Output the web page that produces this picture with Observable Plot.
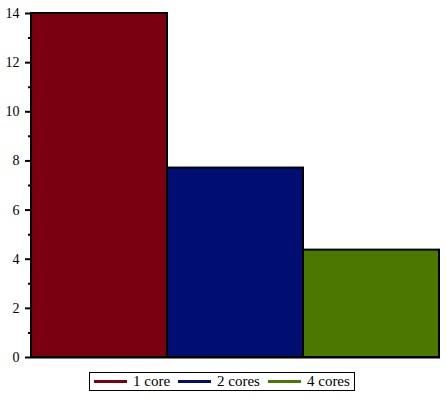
<!DOCTYPE html>
<html>
<head>
<meta charset="utf-8">
<script src="https://cdn.jsdelivr.net/npm/d3@7"></script>
<script src="https://cdn.jsdelivr.net/npm/@observablehq/plot@0.6"></script>
<style>
  body { margin: 0; background: #fff; font-family: "Liberation Serif", "Times New Roman", serif; }
  #chart svg { display: block; }
  #chart svg text { font-family: "Liberation Serif", "Times New Roman", serif !important; }
  #legend {
    position: absolute; left: 89px; top: 372px;
    border: 1px solid #000; height: 19px; box-sizing: border-box;
    display: flex; align-items: center; padding: 0 4px 0 4px;
    font-family: "Liberation Serif", "Times New Roman", serif; font-size: 15px; color: #000;
    white-space: nowrap; line-height: 1;
  }
  .item { display: flex; align-items: center; margin-right: 8px; }
  .item:last-child { margin-right: 0; }
  .sw { width: 33px; height: 3px; margin-right: 6px; }
</style>
</head>
<body>
<div id="chart"></div>
<div id="legend"></div>
<script>
const categories = ["1 core", "2 cores", "4 cores"];
const values = [14, 7.71, 4.37];
const colors = ["#7a0010", "#000e72", "#4b7900"];
const majorTicks = [0, 2, 4, 6, 8, 10, 12, 14];
const minorTicks = [1, 3, 5, 7, 9, 11, 13];

const data = categories.map((c, i) => ({category: c, value: values[i]}));

const chart = Plot.plot({
  width: 446,
  height: 364,
  marginLeft: 30,
  marginRight: 6,
  marginTop: 13,
  marginBottom: 7,
  style: {fontFamily: "'Liberation Serif', 'Times New Roman', serif", fontSize: "14px", color: "#000", background: "#fff"},
  x: {domain: categories, padding: 0, axis: null},
  y: {domain: [0, 14], axis: null},
  color: {domain: categories, range: colors},
  marks: [
    Plot.barY(data, {x: "category", y: "value", fill: "category", stroke: "#000", strokeWidth: 2, inset: 0}),
    Plot.ruleY([0], {stroke: "#000", strokeWidth: 2}),
    Plot.axisY({ticks: majorTicks, tickSize: 5, tickPadding: 6, strokeWidth: 2, fontSize: 14, fill: "#000", label: null}),
    Plot.axisY({ticks: minorTicks, tickSize: 2, strokeWidth: 2, text: null, label: null})
  ]
});
document.getElementById("chart").appendChild(chart);

const legend = document.getElementById("legend");
categories.forEach((c, i) => {
  const it = document.createElement("div");
  it.className = "item";
  const sw = document.createElement("div");
  sw.className = "sw";
  sw.style.background = colors[i];
  const t = document.createElement("span");
  t.textContent = c;
  it.appendChild(sw);
  it.appendChild(t);
  legend.appendChild(it);
});
</script>
</body>
</html>
